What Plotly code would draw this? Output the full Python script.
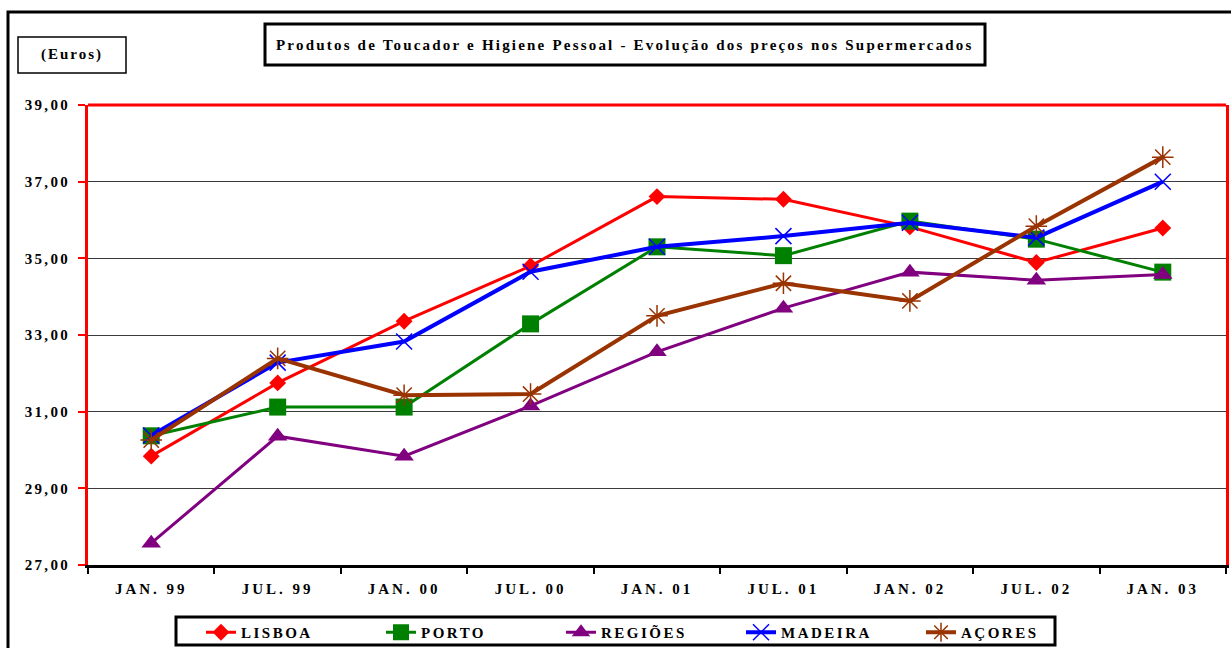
import plotly.graph_objects as go

categories = ["JAN. 99", "JUL. 99", "JAN. 00", "JUL. 00", "JAN. 01",
              "JUL. 01", "JAN. 02", "JUL. 02", "JAN. 03"]

lisboa = [29.84, 31.75, 33.36, 34.80, 36.61, 36.54, 35.82, 34.89, 35.79]
porto = [30.37, 31.12, 31.12, 33.29, 35.30, 35.07, 35.97, 35.50, 34.64]
regioes = [27.57, 30.36, 29.84, 31.15, 32.56, 33.70, 34.64, 34.43, 34.58]
madeira = [30.38, 32.28, 32.83, 34.65, 35.30, 35.58, 35.93, 35.54, 37.00]
acores = [30.26, 32.39, 31.43, 31.46, 33.50, 34.35, 33.89, 35.84, 37.64]

series_names = ["LISBOA", "PORTO", "REGIÕES", "MADEIRA", "AÇORES"]

y_tick_values = [27, 29, 31, 33, 35, 37, 39]
y_tick_labels = ["27,00", "29,00", "31,00", "33,00", "35,00", "37,00", "39,00"]

title_text = "Produtos de Toucador e Higiene Pessoal - Evolução dos preços nos Supermercados"
unit_text = "(Euros)"

FONT = "Liberation Serif"
W, H = 1231, 648
L, R, T, B = 88, 5, 105, 83
PW, PH = W - L - R, H - T - B


def px(x):
    # x in window pixels -> paper coordinate
    return (x - L) / PW


def py(y):
    # y in window pixels -> paper coordinate
    return (H - B - y) / PH


def spaced(s, sp=2.5):
    return f'<span style="letter-spacing:{sp}px">{s}</span>'


styles = [
    dict(color="#FF0000", width=3, symbol="diamond", size=13, mline=0),
    dict(color="#008000", width=3, symbol="square", size=17, mline=0),
    dict(color="#800080", width=3, symbol="triangle-up", size=17, mline=0),
    dict(color="#0000FF", width=4, symbol="x-thin", size=16, mline=1.5),
    dict(color="#993300", width=4, symbol="asterisk", size=18, mline=1.5),
]
values = [lisboa, porto, regioes, madeira, acores]

fig = go.Figure()
for name, vals, st in zip(series_names, values, styles):
    fig.add_trace(go.Scatter(
        x=categories, y=vals, name=spaced(name, 2.5), mode="lines+markers",
        line=dict(color=st["color"], width=st["width"]),
        marker=dict(symbol=st["symbol"], size=st["size"], color=st["color"],
                    line=dict(color=st["color"], width=st["mline"])),
    ))

shapes = [
    # outer frame
    dict(type="rect", xref="paper", yref="paper", x0=px(8), x1=px(1290),
         y0=py(720), y1=py(12), line=dict(color="black", width=3), layer="below"),
    # title box
    dict(type="rect", xref="paper", yref="paper", x0=px(265), x1=px(985),
         y0=py(65), y1=py(24), line=dict(color="black", width=3),
         fillcolor="white", layer="below"),
    # euros box
    dict(type="rect", xref="paper", yref="paper", x0=px(18), x1=px(126),
         y0=py(73), y1=py(37), line=dict(color="black", width=1.5),
         fillcolor="white", layer="below"),
    # legend box
    dict(type="rect", xref="paper", yref="paper", x0=px(176), x1=px(1055),
         y0=py(645), y1=py(617), line=dict(color="black", width=3),
         fillcolor="white", layer="below"),
    # top red border of plot area
    dict(type="line", xref="paper", yref="paper", x0=0, x1=1, y0=1, y1=1,
         line=dict(color="#FF0000", width=3)),
]

annotations = [
    dict(text=spaced("<b>" + title_text + "</b>", 2.2), xref="paper", yref="paper",
         x=px(625), y=py(45), showarrow=False, xanchor="center", yanchor="middle",
         font=dict(family=FONT, size=15, color="black")),
    dict(text=spaced("<b>" + unit_text + "</b>", 2.0), xref="paper", yref="paper",
         x=px(72), y=py(55), showarrow=False, xanchor="center", yanchor="middle",
         font=dict(family=FONT, size=15, color="black")),
]

fig.update_layout(
    width=W, height=H,
    margin=dict(l=L, r=R, t=T, b=B, autoexpand=False),
    paper_bgcolor="white", plot_bgcolor="white",
    font=dict(family=FONT, size=15, color="black"),
    separators=",.",
    shapes=shapes, annotations=annotations,
    showlegend=True,
    legend=dict(orientation="h", xref="container", yref="container",
                x=201 / W, y=1 - 616 / H, xanchor="left", yanchor="top",
                bgcolor="rgba(0,0,0,0)", borderwidth=0,
                font=dict(family=FONT, size=15, color="black", weight="bold"),
                entrywidth=135, entrywidthmode="pixels", traceorder="normal"),
    xaxis=dict(type="category", categoryorder="array", categoryarray=categories,
               range=[-0.5, len(categories) - 0.5],
               tickmode="array", tickvals=categories,
               ticktext=[spaced(c, 3.0) for c in categories],
               tickson="boundaries", ticks="outside", ticklen=6, tickwidth=2,
               tickcolor="black", showline=True, linecolor="black", linewidth=3,
               showgrid=False, ticklabelstandoff=8, automargin=False,
               tickfont=dict(family=FONT, size=15, color="black", weight="bold")),
    yaxis=dict(range=[27, 39], tickmode="array", tickvals=y_tick_values,
               ticktext=[spaced(t, 2.3) for t in y_tick_labels],
               ticks="outside", ticklen=7, tickwidth=2, tickcolor="#FF0000",
               showline=True, linecolor="#FF0000", linewidth=3, mirror=True,
               showgrid=True, gridcolor="#3a3a3a", gridwidth=1, zeroline=False,
               ticklabelstandoff=5, automargin=False,
               tickfont=dict(family=FONT, size=15, color="black", weight="bold")),
)

post = (
    "var s=document.createElement('style');"
    "s.textContent='html,body{margin:0!important;padding:0!important;"
    "overflow:hidden!important;width:1231px;height:648px;}';"
    "document.head.appendChild(s);"
)

fig.write_html("out.html", post_script=post, config={"displayModeBar": False})
